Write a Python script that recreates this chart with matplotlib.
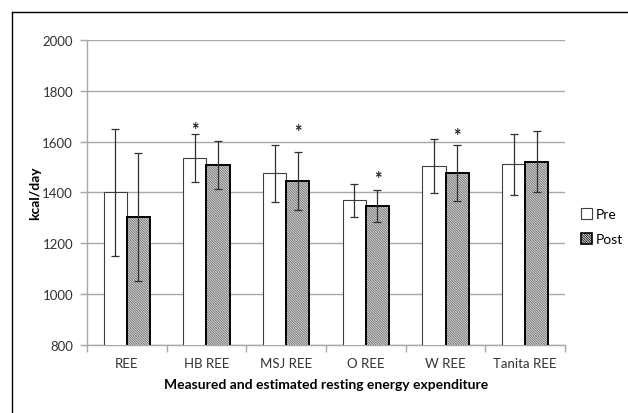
import matplotlib
matplotlib.use("Agg")
import matplotlib.pyplot as plt
import numpy as np
from matplotlib.patches import Patch
from matplotlib.lines import Line2D

plt.rcParams['font.family'] = ['Lato', 'DejaVu Sans']
plt.rcParams['hatch.linewidth'] = 0.5

categories = ["REE", "HB REE", "MSJ REE", "O REE", "W REE", "Tanita REE"]
pre_mean = [1400, 1537, 1475, 1370, 1505, 1512]
pre_sd = [250, 95, 113, 65, 106, 120]
post_mean = [1303, 1508, 1445, 1348, 1476, 1521]
post_sd = [253, 95, 115, 63, 109, 121]
# significance markers: (category index, series, y position)
stars = [(1, "pre", 1648), (2, "post", 1640), (3, "post", 1455), (4, "post", 1625)]

fig = plt.figure(figsize=(6.28, 4.14), dpi=100)
ax = fig.add_axes([0.1385, 0.1643, 0.7612, 0.7367])

x = np.arange(len(categories))
w = 0.29
HATCH = "\\" * 14
ax.bar(x - w / 2, pre_mean, w, color="white", edgecolor="#404040", linewidth=0.8, zorder=3)
ax.bar(x + w / 2, post_mean, w, color="#d8d8d8", edgecolor="#606060", linewidth=0,
       hatch=HATCH, zorder=3)
ax.bar(x + w / 2, post_mean, w, color="none", edgecolor="black", linewidth=1.4, zorder=3)
ax.errorbar(x - w / 2, pre_mean, yerr=pre_sd, fmt="none", ecolor="#303030",
            elinewidth=0.9, capsize=3, capthick=0.9, zorder=4)
ax.errorbar(x + w / 2, post_mean, yerr=post_sd, fmt="none", ecolor="#303030",
            elinewidth=0.9, capsize=3, capthick=0.9, zorder=4)

for ci, s, yv in stars:
    xp = ci - w / 2 if s == "pre" else ci + w / 2
    ax.text(xp, yv, "*", ha="center", va="center", fontsize=13, fontweight="bold", color="#202020")

ax.set_xlim(-0.5, len(categories) - 0.5)
ax.set_ylim(800, 2000)
ax.set_yticks(range(800, 2001, 200))
ax.yaxis.grid(True, color="#a8a8a8", linewidth=1.0, zorder=0)
ax.set_axisbelow(True)
for sp in ["top", "right"]:
    ax.spines[sp].set_visible(False)
for sp in ["left", "bottom"]:
    ax.spines[sp].set_color("#a8a8a8")
    ax.spines[sp].set_linewidth(1.0)

ax.set_xticks(x)
ax.set_xticklabels(categories, fontsize=9.5, color="#333333")
ax.tick_params(axis="x", length=0, pad=9)
ax.set_xticks(np.arange(-0.5, len(categories)), minor=True)
ax.tick_params(axis="x", which="minor", length=5, color="#a8a8a8", width=1.0)
ax.tick_params(axis="y", length=5, color="#a8a8a8", width=1.0, labelsize=9.5,
               labelcolor="#333333", pad=5)

ax.set_xlabel("Measured and estimated resting energy expenditure", fontsize=10,
              fontweight="bold", labelpad=6)
ax.set_ylabel("kcal/day", fontsize=10, fontweight="bold")
ax.yaxis.set_label_coords(-0.095, 0.5)

handles = [Patch(facecolor="white", edgecolor="#404040", linewidth=0.8),
           Patch(facecolor="#d8d8d8", edgecolor="black", linewidth=1.2, hatch=HATCH)]
leg = fig.legend(handles, ["Pre", "Post"], loc="center left", bbox_to_anchor=(0.905, 0.45),
                 frameon=False, fontsize=10, handlelength=0.8, handleheight=0.8,
                 handletextpad=0.3, labelspacing=0.9)

# figure frame (left and top edges visible)
fig.add_artist(Line2D([12 / 628, 12 / 628], [0, 1 - 13 / 414], color="black", linewidth=1.0))
fig.add_artist(Line2D([12 / 628, 1], [1 - 13 / 414, 1 - 13 / 414], color="black", linewidth=1.0))

fig.savefig("out.png", dpi=100)
